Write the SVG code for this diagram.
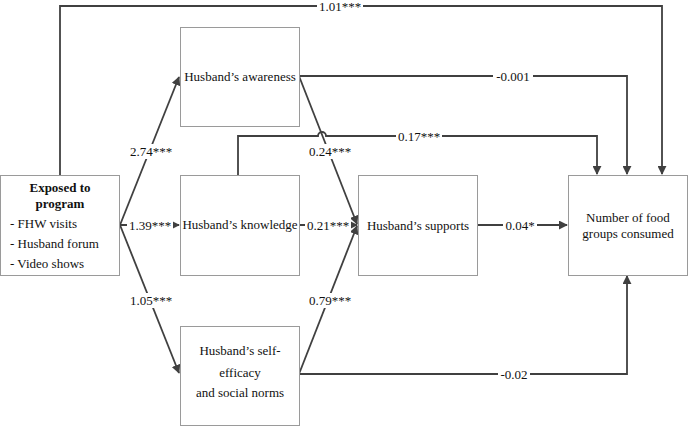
<svg xmlns="http://www.w3.org/2000/svg" width="689" height="427" viewBox="0 0 689 427">
<style>
.box{fill:#fff;stroke:#9a9a9a;stroke-width:1}
.t{font-family:"Liberation Serif","Times New Roman",serif;font-size:13px;fill:#111}
.b{font-weight:bold}
.c{stroke:#404040;stroke-width:1.8;fill:none}
.lb{fill:#fff}
</style>
<defs>
<marker id="ah" viewBox="0 0 10 10" refX="9" refY="5" markerWidth="5" markerHeight="5" orient="auto" markerUnits="strokeWidth">
<path d="M0,0 L10,5 L0,10 Z" fill="#404040"/>
</marker>
</defs>
<rect width="689" height="427" fill="#fff"/>
<g id="connectors">
<path class="c" d="M60,175 V6 H662 V174" marker-end="url(#ah)"/>
<path class="c" d="M299,76 H627 V174" marker-end="url(#ah)"/>
<path class="c" d="M238,175 V136 H318 A4,4 0 0 1 326,136 H597 V174" marker-end="url(#ah)"/>
<path class="c" d="M299,76 L357,224" marker-end="url(#ah)"/>
<path class="c" d="M299,225 H357" marker-end="url(#ah)"/>
<path class="c" d="M299,374 L357,226" marker-end="url(#ah)"/>
<path class="c" d="M120,225 L179,77" marker-end="url(#ah)"/>
<path class="c" d="M120,225 H179" marker-end="url(#ah)"/>
<path class="c" d="M120,225 L179,373" marker-end="url(#ah)"/>
<path class="c" d="M478,225 H567" marker-end="url(#ah)"/>
<path class="c" d="M299,374 H627 V276" marker-end="url(#ah)"/>
<g>
<rect class="lb" x="317" y="0" width="46" height="13"/>
<text class="t" x="340" y="11" text-anchor="middle">1.01***</text>
<rect class="lb" x="493" y="69" width="40" height="14"/>
<text class="t" x="513" y="80.5" text-anchor="middle">-0.001</text>
<rect class="lb" x="396" y="129" width="46" height="14"/>
<text class="t" x="419" y="140.5" text-anchor="middle">0.17***</text>
<rect class="lb" x="128" y="144" width="46" height="15"/>
<text class="t" x="151" y="156" text-anchor="middle">2.74***</text>
<rect class="lb" x="307" y="144" width="46" height="15"/>
<text class="t" x="330" y="156" text-anchor="middle">0.24***</text>
<rect class="lb" x="127" y="218" width="46" height="14"/>
<text class="t" x="150" y="229.5" text-anchor="middle">1.39***</text>
<rect class="lb" x="305" y="218" width="46" height="14"/>
<text class="t" x="328" y="229.5" text-anchor="middle">0.21***</text>
<rect class="lb" x="128" y="293" width="46" height="15"/>
<text class="t" x="151" y="305" text-anchor="middle">1.05***</text>
<rect class="lb" x="307" y="293" width="46" height="15"/>
<text class="t" x="330" y="305" text-anchor="middle">0.79***</text>
<rect class="lb" x="503" y="218" width="34" height="14"/>
<text class="t" x="520" y="229.5" text-anchor="middle">0.04*</text>
<rect class="lb" x="498" y="367" width="32" height="14"/>
<text class="t" x="514" y="378.5" text-anchor="middle">-0.02</text>
</g>
</g>
<g id="exposed">
<rect class="box" x="0.5" y="175.5" width="119" height="100"/>
<text class="t b" x="60" y="192" text-anchor="middle">Exposed to</text>
<text class="t b" x="60" y="208" text-anchor="middle">program</text>
<text class="t" x="10" y="228">- FHW visits</text>
<text class="t" x="10" y="248">- Husband forum</text>
<text class="t" x="10" y="268">- Video shows</text>
</g>
<g id="awareness">
<rect class="box" x="180.5" y="27.5" width="119" height="99"/>
<text class="t" x="240" y="81" text-anchor="middle">Husband’s awareness</text>
</g>
<g id="knowledge">
<rect class="box" x="180.5" y="175.5" width="119" height="100"/>
<text class="t" x="240" y="229" text-anchor="middle">Husband’s knowledge</text>
</g>
<g id="selfefficacy">
<rect class="box" x="180.5" y="326.5" width="119" height="99"/>
<text class="t" x="240" y="355" text-anchor="middle">Husband’s self-</text>
<text class="t" x="240" y="377" text-anchor="middle">efficacy</text>
<text class="t" x="240" y="397" text-anchor="middle">and social norms</text>
</g>
<g id="supports">
<rect class="box" x="358.5" y="175.5" width="119" height="100"/>
<text class="t" x="418" y="230" text-anchor="middle">Husband’s supports</text>
</g>
<g id="outcome">
<rect class="box" x="568.5" y="175.5" width="119" height="100"/>
<text class="t" x="628" y="222" text-anchor="middle">Number of food</text>
<text class="t" x="628" y="238" text-anchor="middle">groups consumed</text>
</g>
</svg>
